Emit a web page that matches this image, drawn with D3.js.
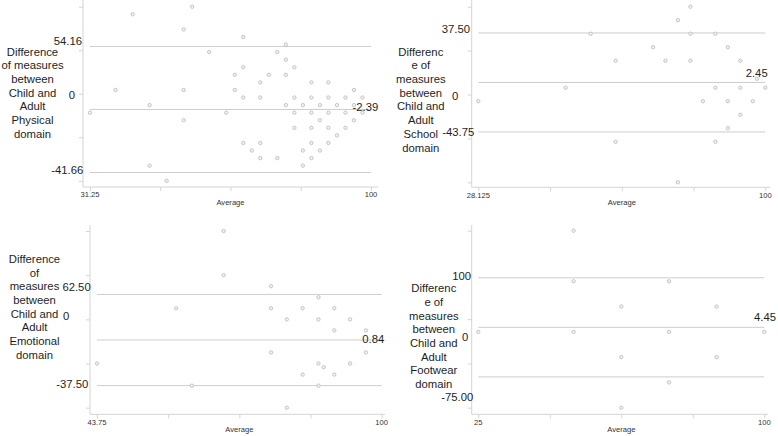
<!DOCTYPE html>
<html>
<head>
<meta charset="utf-8">
<script src="https://cdn.jsdelivr.net/npm/d3@7"></script>
<style>
  html, body { margin: 0; padding: 0; background: #fff; }
  svg { display: block; font-family: "Liberation Sans", Arial, sans-serif; }
</style>
</head>
<body>
<svg id="chart" width="778" height="436"></svg>
<script>
// ---------------- DATA ----------------
const domainNames = ["Physical", "School", "Emotional", "Footwear"];
const titleLines = [
  ["Difference", "of measures", "between", "Child and", "Adult", "Physical", "domain"],
  ["Differenc", "e of", "measures", "between", "Child and", "Adult", "School", "domain"],
  ["Difference", "of", "measures", "between", "Child and", "Adult", "Emotional", "domain"],
  ["Differenc", "e of", "measures", "between", "Child and", "Adult", "Footwear", "domain"]
];

// Physical domain: average (x) and difference (y)
const physicalAvg = [56.25, 41.67, 54.17, 68.75, 79.17, 60.42, 77.08, 79.17, 68.75, 81.25,
  66.67, 75, 79.17, 72.92, 85.42, 89.58, 37.5, 54.17, 66.67, 95.83,
  68.75, 72.92, 81.25, 85.42, 89.58, 93.75, 97.92,
  45.83, 79.17, 83.33, 87.5, 91.67, 95.83,
  31.25, 64.58, 81.25, 85.42, 89.58, 93.75, 97.92,
  54.17, 87.5, 95.83,
  81.25, 85.42, 89.58, 93.75,
  91.67,
  68.75, 72.92, 85.42, 89.58,
  70.83, 83.33, 87.5,
  72.92, 77.08, 85.42,
  45.83, 83.33,
  50];
const physicalDiff = [54.17, 50, 41.67, 37.5, 33.33, 29.17, 29.17, 25, 20.83, 20.83,
  16.67, 16.67, 16.67, 12.5, 12.5, 12.5, 8.33, 8.33, 8.33, 8.33,
  4.17, 4.17, 4.17, 4.17, 4.17, 4.17, 4.17,
  0, 0, 0, 0, 0, 0,
  -4.17, -4.17, -4.17, -4.17, -4.17, -4.17, -4.17,
  -8.33, -8.33, -8.33,
  -12.5, -12.5, -12.5, -12.5,
  -16.67,
  -20.83, -20.83, -20.83, -20.83,
  -25, -25, -25,
  -29.17, -29.17, -29.17,
  -33.33, -33.33,
  -41.67];

// School domain
const schoolAvg = [28.125, 50, 56.25, 81.25, 78.125, 81.25, 87.5, 71.875, 90.625, 62.5,
  75, 81.25, 93.75, 97.92, 87.5, 93.75, 100, 84.375, 90.625, 96.875,
  93.75, 90.625, 62.5, 87.5, 78.125];
const schoolDiff = [-6.25, 0, 25, 37.5, 31.25, 25, 25, 18.75, 18.75, 12.5,
  12.5, 12.5, 12.5, 4.17, 0, 0, 0, -6.25, -6.25, -6.25,
  -12.5, -18.75, -25, -25, -43.75];

// Emotional domain
const emotionalAvg = [59.38, 43.75, 62.5, 68.75, 68.75, 78.13, 87.5, 78.13, 84.38, 90.63,
  81.25, 87.5, 93.75, 90.63, 96.88, 78.13, 96.88, 87.5, 88.54, 93.75,
  84.38, 90.63, 87.5, 81.25];
const emotionalDiff = [18.75, -12.5, -25, 62.5, 37.5, 31.25, 25, 18.75, 18.75, 18.75,
  12.5, 12.5, 12.5, 6.25, 6.25, -6.25, -6.25, -12.5, -14.58, -12.5,
  -18.75, -18.75, -25, -37.5];

// Footwear domain
const footwearAvg = [50, 50, 25, 50, 75, 62.5, 87.5, 75, 100, 62.5, 87.5, 75, 62.5];
const footwearDiff = [100, 50, 0, 0, 50, 25, 25, 0, 0, -25, -25, -50, -75];

// Bland-Altman statistics (mean difference and limits of agreement)
const meanDiff = [-2.39, 2.45, 0.84, 4.45];
const meanLabels = ["-2.39", "2.45", "0.84", "4.45"];
const upperLoA = [32.3, 25.35, 26.6, 53.45];
const lowerLoA = [-37.1, -20.45, -25.0, -44.55];

// Axis extents and tick labels
const xMin = [31.25, 28.125, 43.75, 25];
const xMax = [100, 100, 100, 100];
const xMinLabels = ["31.25", "28.125", "43.75", "25"];
const xMaxLabels = ["100", "100", "100", "100"];
const yMin = [-41.67, -43.75, -37.5, -75];
const yMax = [54.17, 37.5, 62.5, 100];
const yMaxLabels = ["54.16", "37.50", "62.50", "100"];
const yMinLabels = ["-41.66", "-43.75", "-37.50", "-75.00"];
const yZeroLabel = "0";
const xTitle = "Average";

const avgSeries = [physicalAvg, schoolAvg, emotionalAvg, footwearAvg];
const diffSeries = [physicalDiff, schoolDiff, emotionalDiff, footwearDiff];

// ---------------- LAYOUT ----------------
const layout = [
  { axX: 83,    axY: 187,   axTop: 0,   axRight: 378, x0: 90,    x1: 371,   yTop: 6.7,   yBot: 180.8,
    titleX: 32.5, titleY: 51.7,
    maxLab: [-1, -5.7], zeroLab: [-8, 1.3], minLab: [0.3, -2.7], meanLab: [7.3, -2] },
  { axX: 471.7, axY: 187.3, axTop: 0,   axRight: 770, x0: 478.3, x1: 765.3, yTop: 6.7,   yBot: 182.3,
    titleX: 420.8, titleY: 51.7,
    maxLab: [-1.7, -4], zeroLab: [-13.4, 1.3], minLab: [2.6, -0.3], meanLab: [2.4, -9.4] },
  { axX: 90,    axY: 414.3, axTop: 225, axRight: 385, x0: 97,    x1: 381.7, yTop: 231,   yBot: 407.7,
    titleX: 34.5, titleY: 259,
    maxLab: [0.7, -7], zeroLab: [-20.7, -3.3], minLab: [-1.7, -1.3], meanLab: [2.6, -1.3] },
  { axX: 471.7, axY: 414.3, axTop: 225, axRight: 768, x0: 478.3, x1: 764.3, yTop: 230.7, yBot: 407.7,
    titleX: 433.8, titleY: 288.3,
    maxLab: [-0.7, -2], zeroLab: [-3.4, 17.4], minLab: [1.6, 20], meanLab: [11.7, -10.6] }
];

const COL_AXIS = "#d4d4d4";
const COL_LINE = "#cdcdcd";
const COL_PT_STROKE = "#b9b9b9";
const COL_TEXT = "#1e1e1e";
const BIG = 11.3;
const SMALL = 7.6;

const svg = d3.select("#chart");
svg.append("rect").attr("width", 778).attr("height", 436).attr("fill", "#fff");

const linspace = (a, b, n) => d3.range(n).map(i => a + i * (b - a) / (n - 1));

layout.forEach((L, p) => {
  const g = svg.append("g").attr("class", "panel-" + domainNames[p]);
  const x = d3.scaleLinear().domain([xMin[p], xMax[p]]).range([L.x0, L.x1]);
  const y = d3.scaleLinear().domain([yMin[p], yMax[p]]).range([L.yBot, L.yTop]);

  const xTicks = linspace(xMin[p], xMax[p], 5);
  const yTicks = linspace(yMin[p], yMax[p], 5);

  // axis lines
  g.append("line").attr("x1", L.axX).attr("x2", L.axX).attr("y1", L.axTop).attr("y2", L.axY)
    .attr("stroke", COL_AXIS).attr("stroke-width", 1);
  g.append("line").attr("x1", L.axX).attr("x2", L.axRight).attr("y1", L.axY).attr("y2", L.axY)
    .attr("stroke", COL_AXIS).attr("stroke-width", 1);

  // ticks via d3 axes
  const yAxis = d3.axisLeft(y).tickValues(yTicks).tickSize(4).tickFormat("");
  const yg = g.append("g").attr("transform", `translate(${L.axX},0)`).call(yAxis);
  const xAxis = d3.axisBottom(x).tickValues(xTicks).tickSize(4).tickFormat("");
  const xg = g.append("g").attr("transform", `translate(0,${L.axY})`).call(xAxis);
  [yg, xg].forEach(a => {
    a.select(".domain").remove();
    a.selectAll(".tick line").attr("stroke", COL_AXIS);
  });

  // reference lines: upper LoA, mean, lower LoA
  const refs = [upperLoA[p], meanDiff[p], lowerLoA[p]];
  g.selectAll("line.ref").data(refs).enter().append("line").attr("class", "ref")
    .attr("x1", x(xMin[p])).attr("x2", x(xMax[p]))
    .attr("y1", d => y(d)).attr("y2", d => y(d))
    .attr("stroke", COL_LINE).attr("stroke-width", 1);

  // points
  const pts = avgSeries[p].map((a, i) => ({ a, d: diffSeries[p][i] }));
  g.selectAll("circle").data(pts).enter().append("circle")
    .attr("cx", d => x(d.a)).attr("cy", d => y(d.d)).attr("r", 1.7)
    .attr("fill", "#f2f2f2").attr("stroke", COL_PT_STROKE).attr("stroke-width", 0.8);

  // y annotations
  const txt = (xx, yy, s, size, anchor, fill) => g.append("text")
    .attr("x", xx).attr("y", yy).attr("dy", "0.35em")
    .attr("text-anchor", anchor).attr("font-size", size).attr("fill", fill || COL_TEXT).text(s);

  txt(L.axX + L.maxLab[0], y(upperLoA[p]) + L.maxLab[1], yMaxLabels[p], BIG, "end");
  txt(L.axX + L.zeroLab[0], y(yTicks[2]) + L.zeroLab[1], yZeroLabel, BIG, "end");
  txt(L.axX + L.minLab[0], y(lowerLoA[p]) + L.minLab[1], yMinLabels[p], BIG, "end");
  txt(x(xMax[p]) + L.meanLab[0], y(meanDiff[p]) + L.meanLab[1], meanLabels[p], BIG, "end");

  // x labels
  txt(x(xTicks[0]), L.axY + 7.8, xMinLabels[p], SMALL, "middle", "#333");
  txt(x(xTicks[4]), L.axY + 7.8, xMaxLabels[p], SMALL, "middle", "#333");
  txt(x(xTicks[2]), L.axY + 15.3, xTitle, SMALL, "middle", "#333");

  // y title
  titleLines[p].forEach((s, i) => txt(L.titleX, L.titleY + i * 13.7, s, BIG, "middle"));
});
</script>
</body>
</html>
